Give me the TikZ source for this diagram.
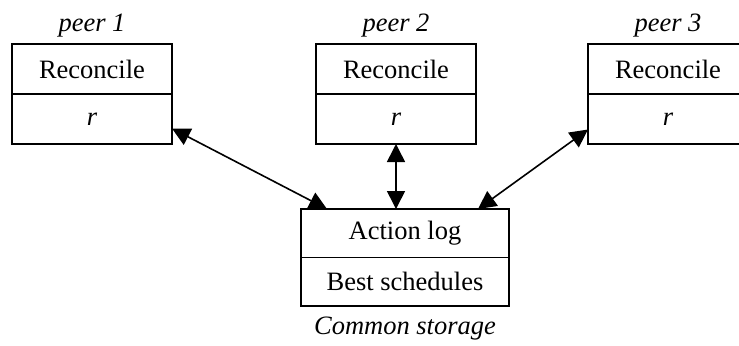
\documentclass[tikz,border=0pt]{standalone}
\usepackage{fontspec}
\setmainfont{Liberation Serif}
\usetikzlibrary{positioning,arrows.meta,calc}

\begin{document}
\begin{tikzpicture}[x=0.5pt,y=-0.5pt,
  font=\fontsize{13.25}{16}\selectfont,
  cell/.style={draw,line width=0.8pt,outer sep=0pt,minimum width=80pt,minimum height=25pt,inner sep=0pt},
  store/.style={cell,minimum width=104pt,minimum height=24.25pt},
  lbl/.style={font=\fontsize{13.25}{16}\selectfont\itshape,anchor=base,inner sep=0pt},
  link/.style={{Triangle[length=9pt,width=9pt]}-{Triangle[length=9pt,width=9pt]},line width=0.8pt}]
\useasboundingbox (0,0) rectangle (739,345);
% peers
\node[cell] (c1) at (92,69) {Reconcile};
\node[cell,below=0pt of c1] (r1) {\textit{r}};
\node[cell] (c2) at (396,69) {Reconcile};
\node[cell,below=0pt of c2] (r2) {\textit{r}};
\node[cell] (c3) at (668,69) {Reconcile};
\node[cell,below=0pt of c3] (r3) {\textit{r}};
\node[lbl] (p1) at (92,31.5) {peer 1};
\node[lbl] (p2) at (396,31.5) {peer 2};
\node[lbl] (p3) at (668,31.5) {peer 3};
% shared storage
\node[store] (log) at (405,233.25) {Action log};
\node[store,below=0pt of log] (best) {Best schedules};
\node[lbl] (cs) at (405,334) {Common storage};
% links
\coordinate (l1) at ($(log.north)+(-78,0)$);
\coordinate (l3) at ($(log.north)+(73,0)$);
\draw[link] ($(r1.east)+(0,9.5)$) -- (l1);
\draw[link] (r2.south) -- (r2.south |- log.north);
\draw[link] ($(r3.west)+(0,10.5)$) -- (l3);
\end{tikzpicture}
\end{document}
